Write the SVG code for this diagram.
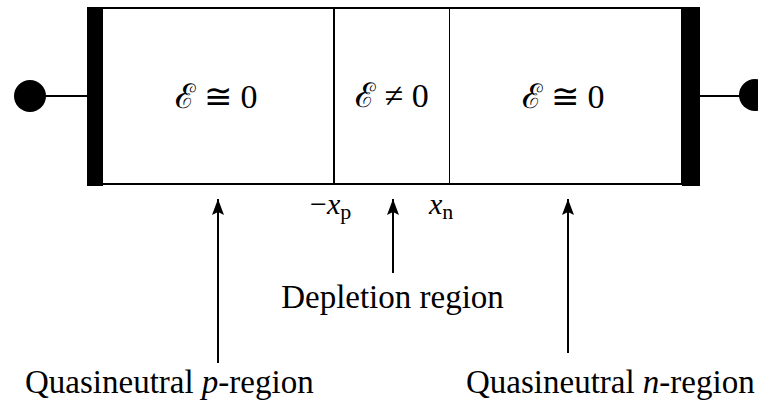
<svg xmlns="http://www.w3.org/2000/svg" width="758" height="402" viewBox="0 0 758 402">
  <style>
    .t { font-family: "Liberation Serif", "DejaVu Serif", serif; fill: #000; }
    .field { font-size: 34px; text-anchor: middle; }
    .lbl { font-size: 33px; }
    .box { fill: #fff; stroke: #000; stroke-width: 2; }
    .div { stroke: #000; stroke-width: 2; }
    .wire { stroke: #000; stroke-width: 2; }
    .arr { stroke: #000; stroke-width: 2; fill: none; marker-end: url(#ah); }
  </style>
  <defs>
    <marker id="ah" viewBox="0 0 16 12" refX="16" refY="6" markerWidth="16" markerHeight="12" markerUnits="userSpaceOnUse" orient="auto">
      <path d="M0,0 L16,6 L0,12 L3,6 Z" fill="#000"/>
    </marker>
  </defs>
  <rect width="758" height="402" fill="#fff"/>

  <g id="left-contact">
    <line class="wire" x1="44" y1="96" x2="88" y2="96"/>
    <circle cx="30" cy="96" r="16" fill="#000"/>
    <rect x="87" y="7" width="16" height="179" fill="#000"/>
  </g>

  <g id="right-contact">
    <line class="wire" x1="700" y1="96" x2="742" y2="96"/>
    <circle cx="755" cy="95" r="16" fill="#000"/>
    <rect x="682" y="7" width="18" height="179" fill="#000"/>
  </g>

  <g id="p-region">
    <path class="box" d="M103,8 H334 V184 H103"/>
    <text class="t field" x="216" y="108">ℰ ≅ 0</text>
  </g>

  <g id="depletion-region">
    <line class="div" x1="334" y1="8" x2="334" y2="184"/>
    <line class="div" x1="450" y1="8" x2="450" y2="184"/>
    <line class="wire" x1="334" y1="8" x2="450" y2="8"/>
    <line class="wire" x1="334" y1="184" x2="450" y2="184"/>
    <text class="t field" x="392" y="107">ℰ ≠ 0</text>
  </g>

  <g id="n-region">
    <path class="box" d="M450,8 H682 V184 H450"/>
    <text class="t field" x="563" y="108">ℰ ≅ 0</text>
  </g>

  <g id="edge-labels">
    <text class="t" x="310" y="214" font-size="30">−<tspan font-style="italic">x</tspan><tspan font-size="22" dy="5">p</tspan></text>
    <text class="t" x="429" y="214" font-size="30"><tspan font-style="italic">x</tspan><tspan font-size="22" dy="5">n</tspan></text>
  </g>

  <g id="connectors">
    <line class="arr" x1="218" y1="363" x2="218" y2="199"/>
    <line class="arr" x1="393" y1="273" x2="393" y2="199"/>
    <line class="arr" x1="568" y1="353" x2="568" y2="199"/>
  </g>

  <g id="label-depletion">
    <text class="t lbl" x="392.5" y="308" text-anchor="middle">Depletion region</text>
  </g>
  <g id="label-p">
    <text class="t lbl" x="25" y="393">Quasineutral <tspan font-style="italic">p</tspan>-region</text>
  </g>
  <g id="label-n">
    <text class="t lbl" x="466" y="393">Quasineutral <tspan font-style="italic">n</tspan>-region</text>
  </g>
</svg>
